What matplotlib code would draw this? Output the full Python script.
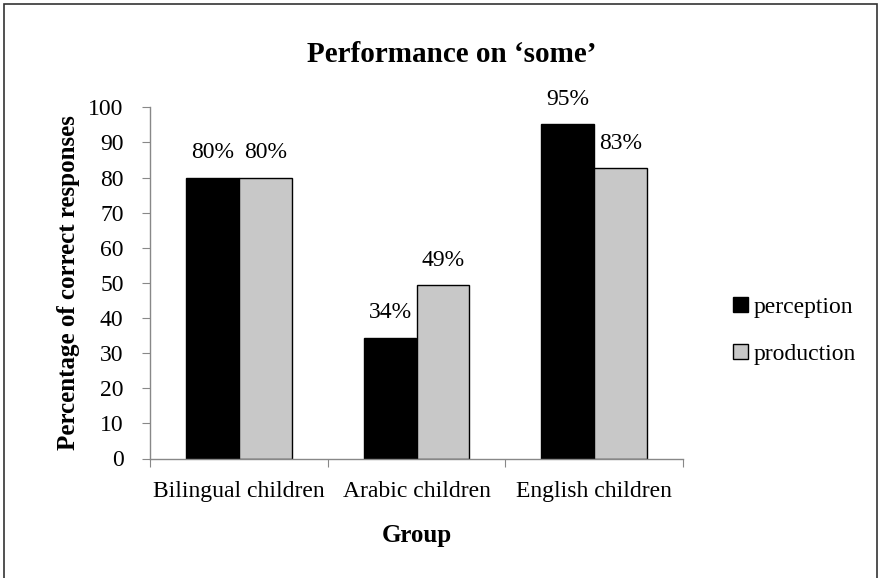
import matplotlib.pyplot as plt
from matplotlib.patches import Rectangle
import numpy as np

plt.rcParams['font.family'] = ['Liberation Serif', 'DejaVu Serif']

groups = ['Bilingual children', 'Arabic children', 'English children']
perception = [80, 34.4, 95.2]
production = [80, 49.4, 82.6]
series_names = ['perception', 'production']

fig = plt.figure(figsize=(8.81, 5.78), dpi=100)
ax = fig.add_axes([150/881, 1 - 458.5/578, 533/881, 351.2/578])

x = np.arange(len(groups))
w = 0.298
b1 = ax.bar(x - w/2, perception, w, color='black', edgecolor='black', linewidth=1, label=series_names[0])
b2 = ax.bar(x + w/2, production, w, color='#c8c8c8', edgecolor='black', linewidth=1, label=series_names[1])

# value labels above each bar
for bars, vals in ((b1, perception), (b2, production)):
    for rect, v in zip(bars, vals):
        ax.annotate('{:.0f}%'.format(v), xy=(rect.get_x() + rect.get_width()/2, v),
                    xytext=(0, 18), textcoords='offset points',
                    ha='center', va='center', fontsize=17)

ax.set_xlim(-0.5, 2.5)
ax.set_ylim(0, 100)
ax.set_yticks(np.arange(0, 101, 10))
ax.set_xticks([-0.5, 0.5, 1.5, 2.5])
ax.set_xticklabels([])
ax.set_xticks(x, minor=True)
ax.set_xticklabels(groups, minor=True)
ax.tick_params(axis='x', which='minor', length=0, pad=16, labelsize=17)
ax.tick_params(axis='x', which='major', length=6, color='#888888', direction='out')
ax.tick_params(axis='y', length=6, color='#888888', labelsize=17, pad=13)

for s in ('top', 'right'):
    ax.spines[s].set_visible(False)
for s in ('left', 'bottom'):
    ax.spines[s].set_color('#888888')
    ax.spines[s].set_linewidth(1)

ax.set_ylabel('Percentage of correct responses', fontsize=18, fontweight='bold', labelpad=6)
ax.set_xlabel('Group', fontsize=18, fontweight='bold', labelpad=16)

fig.text(452/881, 1 - 54/578, 'Performance on \u2018some\u2019', ha='center', va='center',
         fontsize=21, fontweight='bold')

leg = fig.legend(handles=[b1, b2], loc='center left', bbox_to_anchor=(724/881, 1 - 331/578),
                 frameon=False, fontsize=17, handlelength=0.62, handleheight=0.62,
                 handletextpad=0.25, labelspacing=1.1, borderaxespad=0)

# outer frame
fig.patches.append(Rectangle((4/881, -0.05), 873/881, 1.05 - 4/578, transform=fig.transFigure,
                             fill=False, edgecolor='#333333', linewidth=1.2))

fig.savefig('out.png', dpi=100)
